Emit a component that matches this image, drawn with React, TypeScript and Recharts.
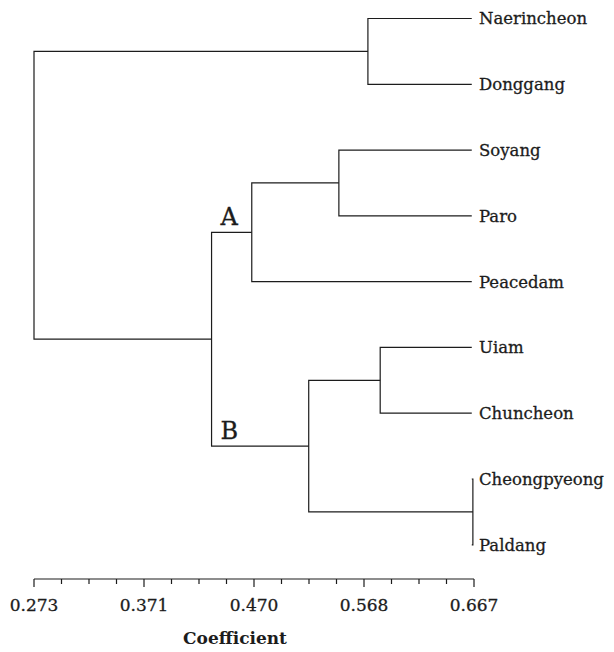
import { ComposedChart, Line, XAxis, YAxis, ReferenceDot } from "recharts";

const LEAVES = [
  "Naerincheon",
  "Donggang",
  "Soyang",
  "Paro",
  "Peacedam",
  "Uiam",
  "Chuncheon",
  "Cheongpyeong",
  "Paldang",
];

// where leaf branches end on the coefficient axis
const LEAF_COEF = 0.665;

// [left, right, coefficient]; ids >= LEAVES.length point to earlier merges
const MERGES: [number, number, number][] = [
  [7, 8, 0.666],
  [5, 6, 0.583],
  [0, 1, 0.572],
  [2, 3, 0.546],
  [10, 9, 0.519],
  [12, 4, 0.468],
  [14, 13, 0.432],
  [11, 15, 0.273],
];

const GROUP_LABELS = [
  { text: "A", node: 14 },
  { text: "B", node: 13 },
];

const MAJOR_TICKS = [0.273, 0.3715, 0.47, 0.5685, 0.667];
const MAJOR_LABELS = ["0.273", "0.371", "0.470", "0.568", "0.667"];

const FONT = "'DejaVu Serif', serif";
const INK = "#1c1c1c";

// 3 minor ticks between each pair of majors
const ticks: number[] = [];
MAJOR_TICKS.forEach((t, i) => {
  ticks.push(t);
  const next = MAJOR_TICKS[i + 1];
  if (next !== undefined) {
    for (let k = 1; k < 4; k++) ticks.push(t + ((next - t) * k) / 4);
  }
});

type Pt = { x: number; y: number };
const pos: Pt[] = LEAVES.map((_, i) => ({ x: LEAF_COEF, y: i }));
const parentOf: Record<number, number> = {};
const links: Pt[][] = MERGES.map(([a, b, h], k) => {
  const id = LEAVES.length + k;
  pos[id] = { x: h, y: (pos[a].y + pos[b].y) / 2 };
  parentOf[a] = id;
  parentOf[b] = id;
  return [
    { x: pos[a].x, y: pos[a].y },
    { x: h, y: pos[a].y },
    { x: h, y: pos[b].y },
    { x: pos[b].x, y: pos[b].y },
  ];
});

const XTick = ({ x, y, payload }: any) => {
  const i = MAJOR_TICKS.indexOf(payload.value);
  return (
    <g>
      <line x1={x} y1={y} x2={x} y2={y + (i >= 0 ? 8 : 5)} stroke={INK} strokeWidth={1.2} />
      {i >= 0 && (
        <text
          x={x}
          y={y + 32}
          textAnchor="middle"
          fontFamily={FONT}
          fontSize={17}
          fill={INK}
          stroke={INK}
          strokeWidth={0.3}
        >
          {MAJOR_LABELS[i]}
        </text>
      )}
    </g>
  );
};

const XLabel = ({ viewBox }: any) => (
  <text
    x={viewBox.x + viewBox.width / 2 - 19}
    y={viewBox.y + 65}
    textAnchor="middle"
    fontFamily={FONT}
    fontSize={17}
    fontWeight="bold"
    fill={INK}
  >
    Coefficient
  </text>
);

export default function App() {
  return (
    <div style={{ width: 598, height: 644 }}>
      <ComposedChart width={598} height={644} margin={{ top: 10.5, right: 6, bottom: 13, left: 26 }}>
        <XAxis
          type="number"
          dataKey="x"
          domain={[0.273, 0.667]}
          ticks={ticks}
          interval={0}
          tickLine={false}
          tickSize={0}
          tickMargin={0}
          axisLine={{ stroke: INK, strokeWidth: 1.2 }}
          tick={<XTick />}
          height={60}
          label={XLabel}
        />
        <YAxis
          type="number"
          orientation="right"
          reversed
          domain={[0, 8.52]}
          ticks={LEAVES.map((_, i) => i)}
          interval={0}
          tickFormatter={(i: number) => LEAVES[i]}
          axisLine={false}
          tickLine={false}
          tickSize={0}
          tickMargin={5}
          width={126}
          tick={{ fontFamily: FONT, fontSize: 16.5, fill: INK, stroke: INK, strokeWidth: 0.3 }}
        />
        {links.map((pts, k) => (
          <Line
            key={k}
            data={pts}
            dataKey="y"
            type="linear"
            stroke={INK}
            strokeWidth={1.2}
            dot={false}
            activeDot={false}
            isAnimationActive={false}
          />
        ))}
        {GROUP_LABELS.map((g) => (
          <ReferenceDot
            key={g.text}
            x={pos[parentOf[g.node]].x}
            y={pos[g.node].y}
            r={1}
            fill="none"
            stroke="none"
            label={({ viewBox }: any) => (
              <text
                x={viewBox.x + 10}
                y={viewBox.y - 6}
                fontFamily={FONT}
                fontSize={24}
                fill={INK}
                stroke={INK}
                strokeWidth={0.3}
              >
                {g.text}
              </text>
            )}
          />
        ))}
      </ComposedChart>
    </div>
  );
}
